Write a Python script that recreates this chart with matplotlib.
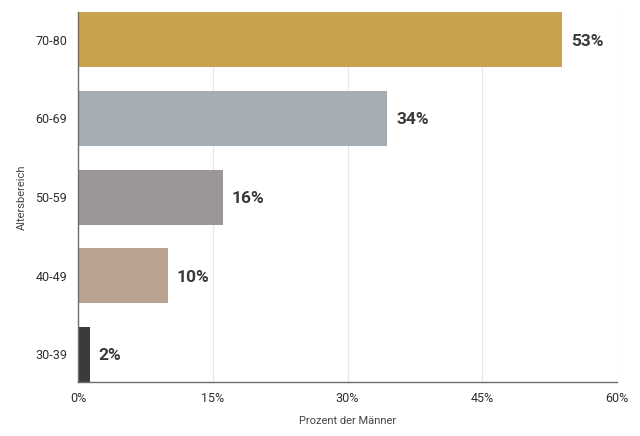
import matplotlib.pyplot as plt

plt.rcParams['font.family'] = ['Roboto', 'DejaVu Sans']

categories = ['30-39', '40-49', '50-59', '60-69', '70-80']
values = [1.3, 10.0, 16.1, 34.4, 53.9]
labels = ['2%', '10%', '16%', '34%', '53%']
colors = ['#3b3b3b', '#bba391', '#9d9697', '#a4acb4', '#c9a24f']
xticks = [0, 15, 30, 45, 60]

fig = plt.figure(figsize=(6.4, 4.36), dpi=100)
ax = fig.add_axes([0.122, 0.124, 0.842, 0.848])

ax.barh(range(len(categories)), values, height=0.7, color=colors, zorder=3)
for i, (v, lab) in enumerate(zip(values, labels)):
    ax.text(v + 1.0, i - 0.02, lab, va='center', ha='left', fontsize=12.5,
            fontweight='bold', color='#3a3a3a')

ax.set_xlim(0, 60)
ax.set_ylim(-0.35, 4.35)
ax.set_xticks(xticks)
ax.set_xticklabels([f'{t}%' for t in xticks])
ax.set_yticks(range(len(categories)))
ax.set_yticklabels(categories)
ax.tick_params(axis='both', length=0, labelsize=9, colors='#2e2e2e')
ax.tick_params(axis='y', pad=8)
ax.tick_params(axis='x', pad=7)

ax.grid(axis='x', color='#e6e6e6', linewidth=0.8, zorder=0)
for s in ['top', 'right']:
    ax.spines[s].set_visible(False)
for s in ['left', 'bottom']:
    ax.spines[s].set_color('#6e6e6e')
    ax.spines[s].set_linewidth(1.0)
    ax.spines[s].set_zorder(4)

ax.set_xlabel('Prozent der Männer', fontsize=8, color='#444444', labelpad=8)
ax.set_ylabel('Altersbereich', fontsize=8, color='#444444', labelpad=6)

fig.savefig('out.png', dpi=100)
